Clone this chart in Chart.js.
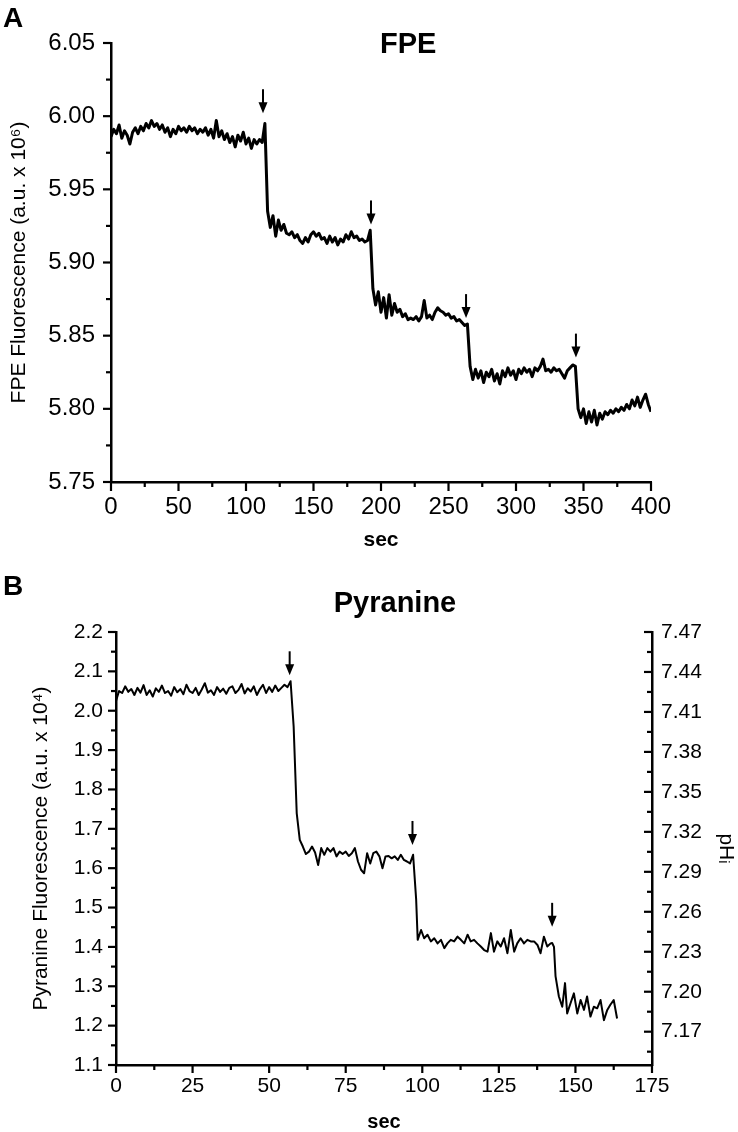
<!DOCTYPE html>
<html><head><meta charset="utf-8">
<script src="https://cdn.jsdelivr.net/npm/chart.js@4.4.1/dist/chart.umd.min.js"></script>
<style>
html,body{margin:0;padding:0;background:#fff;}
#wrap{position:relative;width:738px;height:1132px;background:#fff;}
#c1{position:absolute;left:0;top:0;width:738px;height:566px;}
#c2{position:absolute;left:0;top:566px;width:738px;height:566px;}
</style></head><body>
<div id="wrap"><canvas id="c1" width="738" height="566"></canvas><canvas id="c2" width="738" height="566"></canvas></div>
<script>
// ---------- Panel A: FPE ----------
const fpeTime = [0,2,4,6,8,10,12,14,16,18,20,22,24,26,28,30,32,34,36,38,40,42,44,46,48,50,52,54,56,58,60,62,64,66,68,70,72,74,76,78,80,82,84,86,88,90,92,94,96,98,100,102,104,106,108,110,112,114,116,118,120,122,124,126,128,130,132,134,136,138,140,142,144,146,148,150,152,154,156,158,160,162,164,166,168,170,172,174,176,178,180,182,184,186,188,190,192,194,196,198,200,202,204,206,208,210,212,214,216,218,220,222,224,226,228,230,232,234,236,238,240,242,244,246,248,250,252,254,256,258,260,262,264,266,268,270,272,274,276,278,280,282,284,286,288,290,292,294,296,298,300,302,304,306,308,310,312,314,316,318,320,322,324,326,328,330,332,334,336,338,340,342,344,346,348,350,352,354,356,358,360,362,364,366,368,370,372,374,376,378,380,382,384,386,388,390,392,394,396,398,400];
const fpeValue = [
5.986,5.991,5.988,5.994,5.985,5.990,5.987,5.981,5.989,5.992,5.988,5.993,5.990,5.995,5.992,5.997,5.993,5.995,5.991,5.994,
5.989,5.992,5.986,5.991,5.988,5.993,5.990,5.992,5.989,5.993,5.990,5.992,5.988,5.991,5.989,5.992,5.987,5.991,5.985,5.997,
5.986,5.990,5.984,5.988,5.982,5.986,5.979,5.987,5.983,5.989,5.981,5.985,5.978,5.984,5.981,5.984,5.982,5.995,5.935,
5.924,5.932,5.918,5.929,5.922,5.926,5.920,5.919,5.921,5.917,5.919,5.915,5.913,5.917,5.914,5.919,5.921,5.918,5.920,5.916,
5.917,5.913,5.918,5.914,5.917,5.912,5.916,5.914,5.919,5.916,5.921,5.917,5.918,5.915,5.916,5.914,5.915,5.922,5.882,
5.871,5.880,5.866,5.876,5.862,5.878,5.864,5.872,5.866,5.868,5.863,5.865,5.861,5.862,5.861,5.863,5.860,5.863,5.874,5.862,
5.864,5.861,5.866,5.869,5.867,5.866,5.864,5.865,5.862,5.863,5.860,5.861,5.859,5.857,5.858,5.829,
5.820,5.827,5.821,5.826,5.818,5.825,5.822,5.827,5.819,5.824,5.817,5.826,5.822,5.828,5.823,5.826,5.820,5.827,5.824,5.828,
5.825,5.827,5.822,5.828,5.826,5.829,5.834,5.826,5.827,5.825,5.828,5.826,5.827,5.824,5.821,5.826,5.828,5.830,5.829,5.800,
5.794,5.800,5.790,5.798,5.791,5.799,5.789,5.797,5.793,5.798,5.796,5.799,5.797,5.800,5.798,5.801,5.799,5.803,5.800,5.806,
5.802,5.808,5.801,5.806,5.810,5.803,5.798];
const fpeXTicks = [0,50,100,150,200,250,300,350,400];
const fpeXMinor = [25,75,125,175,225,275,325,375];
const fpeYTicks = [5.75,5.80,5.85,5.90,5.95,6.00,6.05];
const fpeYMinor = [5.775,5.825,5.875,5.925,5.975,6.025];
const fpeArrowTime = [112.6,192.6,263,344.4];
const fpeArrowTip = [6.002,5.926,5.862,5.835];

// ---------- Panel B: Pyranine ----------
const pyrTime = [0,1,2,3,4,5,6,7,8,9,10,11,12,13,14,15,16,17,18,19,20,21,22,23,24,25,26,27,28,29,30,31,32,33,34,35,36,37,38,39,40,41,42,43,44,45,46,47,48,49,50,51,52,53,54,55,56,57,58,59,
60,61,62,63,64,65,66,67,68,69,70,71,72,73,74,75,76,77,78,79,80,81,82,83,84,85,86,87,88,89,90,91,92,93,94,95,96,97,98,
98.5,99.6,100.6,101.7,102.8,103.9,105.0,106.1,107.2,108.2,109.3,110.4,111.5,112.6,113.7,114.8,115.8,116.9,118.0,119.1,120.2,121.3,122.4,123.4,124.5,125.6,126.7,127.8,128.9,130.0,131.0,132.1,133.2,134.3,135.4,136.5,137.6,138.6,139.7,140.8,141.9,142.4,143.0,
143.5,144.6,145.7,146.6,147.3,148.4,149.5,150.6,151.7,152.8,153.8,154.9,156.0,157.1,158.2,159.3,160.4,161.4,162.5,163.6];
const pyrValue = [
2.025,2.050,2.045,2.062,2.048,2.055,2.040,2.058,2.046,2.065,2.040,2.052,2.036,2.057,2.048,2.064,2.045,2.050,2.038,2.060,
2.047,2.055,2.042,2.066,2.050,2.045,2.058,2.040,2.054,2.070,2.046,2.052,2.040,2.060,2.048,2.056,2.043,2.058,2.062,2.045,
2.053,2.068,2.044,2.057,2.049,2.062,2.040,2.055,2.066,2.045,2.060,2.048,2.064,2.050,2.058,2.066,2.060,2.075,1.960,1.740,
1.672,1.655,1.636,1.642,1.655,1.640,1.608,1.651,1.634,1.651,1.642,1.651,1.630,1.642,1.636,1.642,1.631,1.638,1.651,1.617,
1.596,1.587,1.638,1.612,1.638,1.642,1.630,1.600,1.630,1.631,1.625,1.630,1.621,1.634,1.621,1.617,1.612,1.634,1.520,
1.418,1.443,1.422,1.431,1.414,1.422,1.409,1.418,1.397,1.409,1.418,1.414,1.426,1.418,1.409,1.431,1.414,1.418,1.409,1.401,
1.392,1.388,1.435,1.388,1.414,1.401,1.422,1.384,1.443,1.388,1.409,1.422,1.409,1.418,1.414,1.414,1.405,1.384,1.426,1.401,
1.409,1.410,1.400,
1.326,1.274,1.248,1.308,1.231,1.257,1.282,1.231,1.265,1.240,1.274,1.223,1.248,1.244,1.265,1.214,1.240,1.253,1.265,1.218];
const pyrXTicks = [0,25,50,75,100,125,150,175];
const pyrXMinor = [12.5,37.5,62.5,87.5,112.5,137.5,162.5];
const pyrYTicks = [1.1,1.2,1.3,1.4,1.5,1.6,1.7,1.8,1.9,2.0,2.1,2.2];
const pyrYMinor = [1.15,1.25,1.35,1.45,1.55,1.65,1.75,1.85,1.95,2.05,2.15];
const phTicks = [7.17,7.20,7.23,7.26,7.29,7.32,7.35,7.38,7.41,7.44,7.47];
const phMinor = [7.155,7.185,7.215,7.245,7.275,7.305,7.335,7.365,7.395,7.425,7.455];
const pyrArrowTime = [56.7,96.8,142.4];
const pyrArrowTip = [2.09,1.659,1.451];

// ---------- helpers ----------
const FONT = "'Liberation Sans', Arial, Helvetica, sans-serif";
Chart.defaults.font.family = FONT;
Chart.defaults.color = '#000';

function tickPlugin(spec){
  return {id:'tickMarks', afterDraw(chart){
    const ctx = chart.ctx, ca = chart.chartArea;
    ctx.save(); ctx.strokeStyle='#000'; ctx.lineWidth=2.2; ctx.lineCap='butt';
    for (const id in spec){
      const s = chart.scales[id], t = spec[id];
      const draw = (vals,len)=>vals.forEach(v=>{
        const p = s.getPixelForValue(v);
        ctx.beginPath();
        if (s.isHorizontal()){ ctx.moveTo(p,ca.bottom); ctx.lineTo(p,ca.bottom+len); }
        else if (s.position==='left'){ ctx.moveTo(ca.left,p); ctx.lineTo(ca.left-len,p); }
        else { ctx.moveTo(ca.right,p); ctx.lineTo(ca.right-len,p); }
        ctx.stroke();
      });
      draw(t.major,t.majorLen); draw(t.minor,t.minorLen);
    }
    ctx.restore();
  }};
}
function arrowPlugin(xs, ys){
  return {id:'arrows', afterDatasetsDraw(chart){
    const ctx = chart.ctx, sx = chart.scales.x, sy = chart.scales.y;
    ctx.save(); ctx.strokeStyle='#000'; ctx.fillStyle='#000'; ctx.lineWidth=2;
    xs.forEach((t,i)=>{
      const x = sx.getPixelForValue(t), y = sy.getPixelForValue(ys[i]);
      ctx.beginPath(); ctx.moveTo(x,y-24); ctx.lineTo(x,y-8); ctx.stroke();
      ctx.beginPath(); ctx.moveTo(x-4.5,y-11); ctx.lineTo(x+4.5,y-11); ctx.lineTo(x,y); ctx.closePath(); ctx.fill();
    });
    ctx.restore();
  }};
}
function textPlugin(items){
  return {id:'texts', afterDraw(chart){
    const ctx = chart.ctx; ctx.save(); ctx.fillStyle='#000'; ctx.textBaseline='alphabetic';
    items.forEach(it=>{ ctx.font = it.font; ctx.textAlign = it.align||'left'; ctx.fillText(it.text,it.x,it.y); });
    ctx.restore();
  }};
}
const setTicks = arr => s => { s.ticks = arr.map(v=>({value:v})); };
const baseAxis = () => ({
  grid:{display:false, drawTicks:false},
  border:{display:true, color:'#000', width:2.5}
});

// ---------- Chart A ----------
new Chart(document.getElementById('c1'), {
  type:'line',
  data:{datasets:[{data:fpeTime.map((t,i)=>({x:t,y:fpeValue[i]})), borderColor:'#000', borderWidth:3,
    pointRadius:0, tension:0, borderJoinStyle:'round', fill:false}]},
  options:{
    responsive:false, animation:false, devicePixelRatio:1,
    layout:{padding:{top:43,right:87,left:0,bottom:0}},
    plugins:{legend:{display:false}, tooltip:{enabled:false}, title:{display:false}},
    scales:{
      x:Object.assign(baseAxis(), {type:'linear', min:0, max:400,
        afterBuildTicks:setTicks(fpeXTicks), afterFit:s=>{s.height=84;},
        ticks:{color:'#000', font:{family:FONT,size:24}, padding:11, maxRotation:0, autoSkip:false, callback:v=>String(v)},
        title:{display:true, text:'sec', color:'#000', font:{family:FONT,size:21,weight:'bold',lineHeight:1}, padding:{top:0,bottom:15}}}),
      y:Object.assign(baseAxis(), {type:'linear', min:5.75, max:6.05,
        afterBuildTicks:setTicks(fpeYTicks), afterFit:s=>{s.width=111;},
        ticks:{color:'#000', font:{family:FONT,size:24}, padding:16, autoSkip:false, callback:v=>Number(v).toFixed(2)},
        title:{display:true, text:'FPE Fluorescence (a.u. x 10\u2076)', color:'#000', font:{family:FONT,size:21,lineHeight:1}, padding:{top:9,bottom:0}}})
    }
  },
  plugins:[
    tickPlugin({x:{major:fpeXTicks,minor:fpeXMinor,majorLen:9,minorLen:5}, y:{major:fpeYTicks,minor:fpeYMinor,majorLen:8,minorLen:5}}),
    arrowPlugin(fpeArrowTime, fpeArrowTip),
    textPlugin([
      {text:'A', x:3, y:27, font:"bold 28px "+FONT},
      {text:'FPE', x:380, y:53, font:"bold 29px "+FONT}
    ])
  ]
});

// ---------- Chart B ----------
new Chart(document.getElementById('c2'), {
  type:'line',
  data:{datasets:[{data:pyrTime.map((t,i)=>({x:t,y:pyrValue[i]})), borderColor:'#000', borderWidth:2,
    pointRadius:0, tension:0, borderJoinStyle:'round', fill:false, yAxisID:'y'}]},
  options:{
    responsive:false, animation:false, devicePixelRatio:1,
    layout:{padding:{top:66,right:0,left:0,bottom:0}},
    plugins:{legend:{display:false}, tooltip:{enabled:false}, title:{display:false}},
    scales:{
      x:Object.assign(baseAxis(), {type:'linear', min:0, max:175,
        afterBuildTicks:setTicks(pyrXTicks), afterFit:s=>{s.height=67;},
        ticks:{color:'#000', font:{family:FONT,size:21}, padding:9, maxRotation:0, autoSkip:false, callback:v=>String(v)},
        title:{display:true, text:'sec', color:'#000', font:{family:FONT,size:20,weight:'bold',lineHeight:1}, padding:{top:0,bottom:0}}}),
      y:Object.assign(baseAxis(), {type:'linear', position:'left', min:1.1, max:2.2,
        afterBuildTicks:setTicks(pyrYTicks), afterFit:s=>{s.width=116;},
        ticks:{color:'#000', font:{family:FONT,size:21}, padding:13, autoSkip:false, callback:v=>Number(v).toFixed(1)},
        title:{display:true, text:'Pyranine Fluorescence (a.u. x 10\u2074)', color:'#000', font:{family:FONT,size:21,lineHeight:1}, padding:{top:31,bottom:0}}}),
      y2:Object.assign(baseAxis(), {type:'linear', position:'right', min:7.145, max:7.47,
        afterBuildTicks:setTicks(phTicks), afterFit:s=>{s.width=86;},
        ticks:{color:'#000', font:{family:FONT,size:21}, padding:9, autoSkip:false, callback:v=>Number(v).toFixed(2)},
        title:{display:true, text:'pH\u1D62', color:'#000', font:{family:FONT,size:21,lineHeight:1}, padding:{top:2,bottom:0}}})
    }
  },
  plugins:[
    tickPlugin({x:{major:pyrXTicks,minor:pyrXMinor,majorLen:8,minorLen:5}, y:{major:pyrYTicks,minor:pyrYMinor,majorLen:8,minorLen:5}, y2:{major:phTicks,minor:phMinor,majorLen:8,minorLen:5}}),
    arrowPlugin(pyrArrowTime, pyrArrowTip),
    textPlugin([
      {text:'B', x:3, y:29, font:"bold 28px "+FONT},
      {text:'Pyranine', x:395, y:46, font:"bold 29px "+FONT, align:'center'}
    ])
  ]
});
</script>
</body></html>
